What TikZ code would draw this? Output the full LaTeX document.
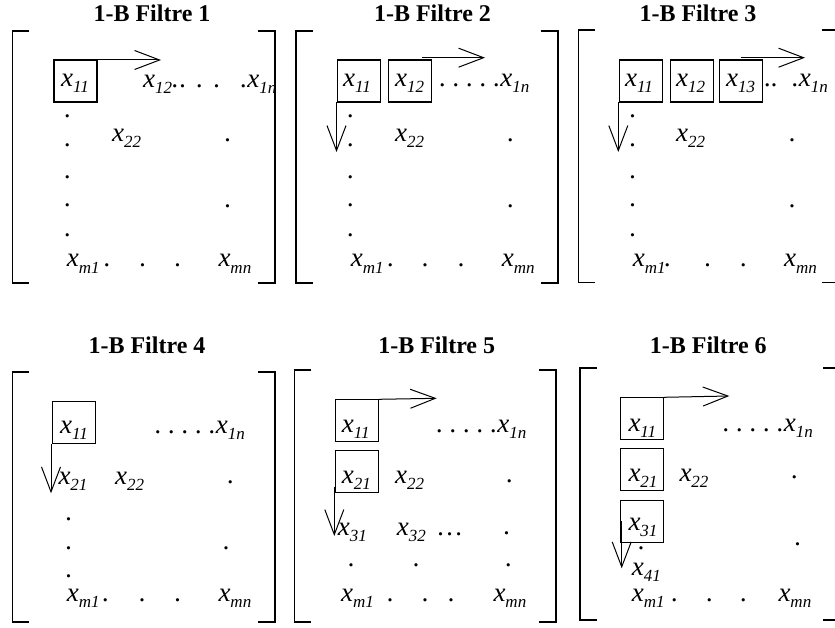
\documentclass[tikz,border=0pt]{standalone}
\usepackage{fontspec}
\setmainfont{Liberation Serif}[ItalicFont={Liberation Serif Italic},BoldFont={Liberation Serif Bold}]
\newfontfamily\itfont{Liberation Serif Italic}
\usetikzlibrary{arrows.meta}
\newcommand\xe[1]{x\raisebox{-6pt}{\fontsize{17}{17}\selectfont #1}}
\newcommand\dt[3]{\node[dotst] (#1) at (#2,#3) {.};}
\newcommand\en[4]{\node[ent] (#1) at (#2,#3) {#4};}
\newcommand\lbr[3]{\draw[brk] (#1+17,#2) -- (#1,#2) -- (#1,#3) -- (#1+17,#3);}
\newcommand\rbr[3]{\draw[brk] (#1-17,#2) -- (#1,#2) -- (#1,#3) -- (#1-17,#3);}
\tikzset{
  ent/.style={anchor=base west, inner sep=0pt, font=\itfont\fontsize{27}{27}\selectfont\frenchspacing},
  dotst/.style={anchor=base, inner sep=0pt, font=\itfont\fontsize{27}{27}\selectfont},
  ttl/.style={anchor=base, inner sep=0pt, font=\fontsize{24}{24}\selectfont\bfseries},
  cell/.style={draw, line width=1.3pt, minimum width=43pt, minimum height=42pt, inner sep=0pt, outer sep=0pt},
  arr/.style={line width=1pt, -{Straight Barb[length=25pt,width=19pt,line width=1pt]}},
  brk/.style={line width=1.6pt},
}
\begin{document}
\begin{tikzpicture}[x=1pt,y=-1pt]
\useasboundingbox (0,0) rectangle (835,628);
% ================= Panel 1 =================
\node[ttl] (t1) at (152,22) {1-B Filtre 1};
\lbr{12.3}{31}{283}
\rbr{275}{31}{283}
\node[cell] (p1b1) at (75.6,81) {};
\en{p1x11}{61}{87}{\xe{11}}
\coordinate (p1ae) at (161,60);
\draw[arr] (p1b1.north east) -- (p1ae);
\en{p1x12}{143}{88}{\xe{12}.}
\dt{p1d1}{183.3}{88}\dt{p1d2}{200}{88}\dt{p1d3}{217.3}{88}
\en{p1x1n}{240.5}{88}{.\xe{1n}}
\dt{p1c1}{68}{118}\dt{p1c2}{68}{147}\dt{p1c3}{68}{179}\dt{p1c4}{68}{207}\dt{p1c5}{68}{236.5}
\en{p1x22}{112}{142}{\xe{22}}
\dt{p1r1}{228.3}{141.5}\dt{p1r2}{228.3}{207.5}
\en{p1xm1}{66.7}{267}{\xe{m1}}
\dt{p1b1d}{107.5}{267}\dt{p1b2d}{143.3}{267}\dt{p1b3d}{178.3}{267}
\en{p1xmn}{218.3}{267}{\xe{mn}}
% ================= Panel 2 =================
\node[ttl] (t2) at (432.5,22) {1-B Filtre 2};
\lbr{295.7}{31}{283}
\rbr{557.7}{31}{283}
\node[cell] (p2b1) at (359,81) {};
\node[cell] (p2b2) at (410,81) {};
\en{p2x11}{343}{87}{\xe{11}}
\en{p2x12}{395}{87}{\xe{12}}
\coordinate (p2as) at (421.7,57.7);
\coordinate (p2ae) at (485,57.7);
\draw[arr] (p2as) -- (p2ae);
\coordinate (p2ds) at (336.5,102);
\coordinate (p2de) at (336.5,152);
\draw[arr] (p2ds) -- (p2de);
\en{p2x1n}{439.5}{87}{. . . . .\xe{1n}}
\dt{p2c1}{351}{118}\dt{p2c2}{351}{147}\dt{p2c3}{351}{179}\dt{p2c4}{351}{207}\dt{p2c5}{351}{236.5}
\en{p2x22}{395}{142}{\xe{22}}
\dt{p2r1}{511}{141.5}\dt{p2r2}{511}{207.5}
\en{p2xm1}{350.7}{267}{\xe{m1}}
\dt{p2b1d}{391}{267}\dt{p2b2d}{425.7}{267}\dt{p2b3d}{461.7}{267}
\en{p2xmn}{501.7}{267}{\xe{mn}}
% ================= Panel 3 =================
\node[ttl] (t3) at (698,22) {1-B Filtre 3};
\lbr{578.3}{30}{282.7}
\draw[brk] (821.7,30) -- (836,30);
\draw[brk] (821.7,282.7) -- (836,282.7);
\node[cell] (p3b1) at (640.8,81) {};
\node[cell] (p3b2) at (691.7,81) {};
\node[cell] (p3b3) at (740.7,81) {};
\en{p3x11}{625}{87}{\xe{11}}
\en{p3x12}{676}{87}{\xe{12}}
\en{p3x13}{726}{87}{\xe{13}}
\coordinate (p3as) at (740.7,57.7);
\coordinate (p3ae) at (805,57.7);
\draw[arr] (p3as) -- (p3ae);
\coordinate (p3ds) at (618.3,102);
\coordinate (p3de) at (618.3,152);
\draw[arr] (p3ds) -- (p3de);
\en{p3dd}{764.5}{87}{..}
\en{p3x1n}{792}{87}{.\xe{1n}}
\dt{p3c1}{633.3}{118}\dt{p3c2}{633.3}{147}\dt{p3c3}{633.3}{179}\dt{p3c4}{633.3}{207}\dt{p3c5}{633.3}{236.5}
\en{p3x22}{676}{142}{\xe{22}}
\dt{p3r1}{792.7}{141.5}\dt{p3r2}{792.7}{207.5}
\en{p3xm1}{632.7}{267}{\xe{m1}}
\dt{p3b1d}{668}{267}\dt{p3b2d}{708.3}{267}\dt{p3b3d}{744}{267}
\en{p3xmn}{784}{267}{\xe{mn}}
% ================= Panel 4 =================
\node[ttl] (t4) at (147,353.3) {1-B Filtre 4};
\lbr{12.3}{371.7}{621.7}
\rbr{275}{371.7}{621.7}
\node[cell] (p4b1) at (74,422.5) {};
\en{p4x11}{60}{433.3}{\xe{11}}
\coordinate (p4ds) at (51,444);
\coordinate (p4de) at (51,493.3);
\draw[arr] (p4ds) -- (p4de);
\en{p4x1n}{155}{433.3}{. . . . .\xe{1n}}
\en{p4x21}{58.3}{484.3}{\xe{21}}
\en{p4x22}{115}{484.3}{\xe{22}}
\dt{p4r1}{231}{483}
\dt{p4c1}{69.3}{520.5}\dt{p4c2}{69.3}{549}\dt{p4c3}{69.3}{577.5}
\dt{p4r2}{226.7}{549}
\en{p4xm1}{66.7}{601.7}{\xe{m1}}
\dt{p4b1d}{106}{601.7}\dt{p4b2d}{142.7}{601.7}\dt{p4b3d}{178.3}{601.7}
\en{p4xmn}{218.3}{601.7}{\xe{mn}}
% ================= Panel 5 =================
\node[ttl] (t5) at (436.7,353.3) {1-B Filtre 5};
\lbr{294.3}{370}{621.7}
\rbr{555.7}{370}{621.7}
\node[cell] (p5b1) at (357.3,420.3) {};
\node[cell] (p5b2) at (357.3,471.3) {};
\coordinate (p5ae) at (436.7,398.3);
\draw[arr] (p5b1.north east) -- (p5ae);
\coordinate (p5ds) at (334.3,486.7);
\coordinate (p5de) at (334.3,536);
\draw[arr] (p5ds) -- (p5de);
\en{p5x11}{341.7}{432.3}{\xe{11}}
\en{p5x1n}{436.5}{432.3}{. . . . .\xe{1n}}
\en{p5x21}{341.7}{483.3}{\xe{21}}
\en{p5x22}{395}{483.3}{\xe{22}}
\dt{p5r1}{510}{482.5}
\en{p5x31}{337.7}{535}{\xe{31}}
\en{p5x32}{396.7}{535}{\xe{32}}
\en{p5ell}{438}{535}{…}
\dt{p5r2}{507.3}{534.5}
\dt{p5e1}{351.7}{566.5}\dt{p5e2}{416.7}{566.5}\dt{p5e3}{509}{566.5}
\en{p5xm1}{341}{601.7}{\xe{m1}}
\dt{p5b1d}{390.7}{601.7}\dt{p5b2d}{425.7}{601.7}\dt{p5b3d}{451.7}{601.7}
\en{p5xmn}{493.3}{601.7}{\xe{mn}}
% ================= Panel 6 =================
\node[ttl] (t6) at (708.3,353.3) {1-B Filtre 6};
\lbr{580}{367.7}{620}
\draw[brk] (823.3,367.7) -- (836,367.7);
\draw[brk] (823.3,620) -- (836,620);
\node[cell] (p6b1) at (642.3,418.3) {};
\node[cell] (p6b2) at (642.3,469.5) {};
\node[cell] (p6b3) at (642.3,521.3) {};
\coordinate (p6ae) at (729.3,396);
\draw[arr] (p6b1.north east) -- (p6ae);
\coordinate (p6ds) at (621.7,521.3);
\coordinate (p6de) at (621.7,568.3);
\draw[arr] (p6ds) -- (p6de);
\en{p6x11}{628.3}{431}{\xe{11}}
\en{p6x1n}{723}{431}{. . . . .\xe{1n}}
\en{p6x21}{628.3}{481}{\xe{21}}
\en{p6x22}{679.3}{481}{\xe{22}}
\dt{p6r1}{795}{478}
\en{p6x31}{628.3}{530.5}{\xe{31}}
\dt{p6h}{641.7}{549.5}
\dt{p6r2}{798.3}{545}
\en{p6x41}{631.7}{575}{\xe{41}}
\en{p6xm1}{631.7}{601.7}{\xe{m1}}
\dt{p6b1d}{675}{601.7}\dt{p6b2d}{710}{601.7}\dt{p6b3d}{744}{601.7}
\en{p6xmn}{778.3}{601.7}{\xe{mn}}
\end{tikzpicture}
\end{document}
